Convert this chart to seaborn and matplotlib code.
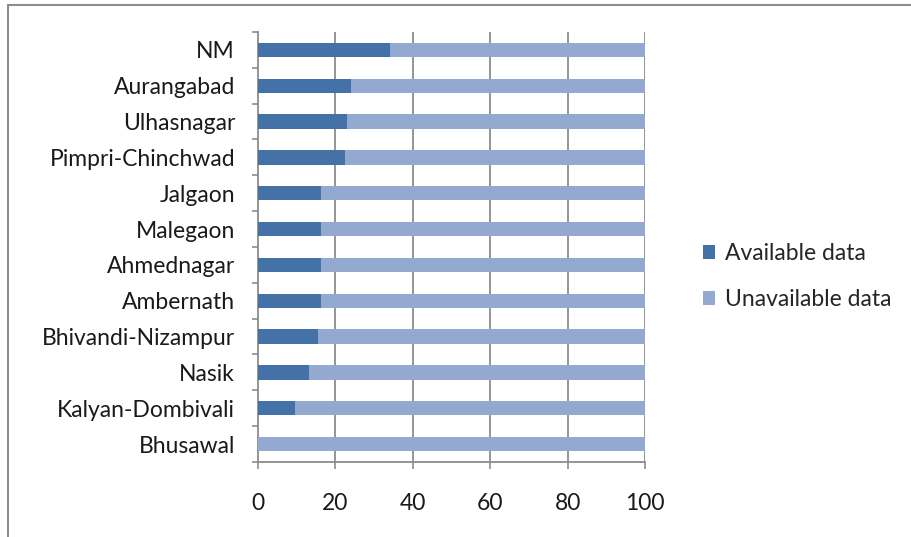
import matplotlib
matplotlib.use("Agg")
import matplotlib.pyplot as plt
import seaborn as sns
import pandas as pd
from matplotlib.lines import Line2D
from matplotlib.patches import Patch

cities = ["NM", "Aurangabad", "Ulhasnagar", "Pimpri-Chinchwad", "Jalgaon",
          "Malegaon", "Ahmednagar", "Ambernath", "Bhivandi-Nizampur", "Nasik",
          "Kalyan-Dombivali", "Bhusawal"]
available = [34.2, 24.0, 23.1, 22.4, 16.4, 16.4, 16.4, 16.4, 15.5, 13.1, 9.5, 0.0]
unavailable = [100 - a for a in available]
x_ticks = [0, 20, 40, 60, 80, 100]

dark = "#4472A8"
light = "#94A9D0"
grid_c = "#8C8C8C"
text_c = "#1A1A1A"
fs = 16.5

sns.set_theme(style="white")
plt.rcParams["font.family"] = ["Lato", "DejaVu Sans"]

df = pd.DataFrame({"city": cities, "available": available,
                   "unavailable": unavailable})
df["total"] = df["available"] + df["unavailable"]

fig = plt.figure(figsize=(9.12, 5.37), dpi=100)
ax = fig.add_axes([0.2829, 0.1397, 0.4243, 0.8007])

sns.barplot(data=df, y="city", x="total", color=light, orient="h",
            width=0.4, saturation=1, linewidth=0, ax=ax, zorder=3)
sns.barplot(data=df, y="city", x="available", color=dark, orient="h",
            width=0.4, saturation=1, linewidth=0, ax=ax, zorder=4)

ax.set_xlim(0, 100)
ax.set_ylim(len(cities) - 0.5, -0.5)
ax.set_xticks(x_ticks)
ax.set_xticklabels([str(t) for t in x_ticks], fontsize=fs, color=text_c)
ax.set_xlabel("")
ax.set_ylabel("")
ax.tick_params(axis="x", direction="out", length=5, width=1.2, color=grid_c,
               pad=17, bottom=True)
ax.tick_params(axis="y", which="major", length=0, pad=16.5, labelsize=fs,
               labelcolor=text_c)
ax.set_yticks(range(len(cities)))
ax.set_yticklabels(cities)
ax.set_yticks([i - 0.5 for i in range(len(cities) + 1)], minor=True)
ax.tick_params(axis="y", which="minor", direction="out", length=4.5, width=1.2,
               color=grid_c, left=True)

for t in x_ticks[1:]:
    ax.axvline(t, color=grid_c, lw=1.3, zorder=1)

for side in ["top", "right"]:
    ax.spines[side].set_visible(False)
for side in ["left", "bottom"]:
    ax.spines[side].set_color(grid_c)
    ax.spines[side].set_linewidth(1.3)

handles = [Patch(facecolor=dark, edgecolor="none", label="Available data"),
           Patch(facecolor=light, edgecolor="none", label="Unavailable data")]
fig.legend(handles=handles, loc="center left", bbox_to_anchor=(0.7605, 0.485),
           frameon=False, fontsize=fs, handlelength=0.55, handleheight=0.55,
           handletextpad=0.4, labelspacing=1.08, borderaxespad=0)

# outer frame edges
fig.add_artist(Line2D([8 / 912, 1.0], [1 - 5 / 537, 1 - 5 / 537],
                      transform=fig.transFigure, color=grid_c, lw=1.5))
fig.add_artist(Line2D([8 / 912, 8 / 912], [0.0, 1 - 5 / 537],
                      transform=fig.transFigure, color=grid_c, lw=1.5))

fig.savefig("out.png", dpi=100)
